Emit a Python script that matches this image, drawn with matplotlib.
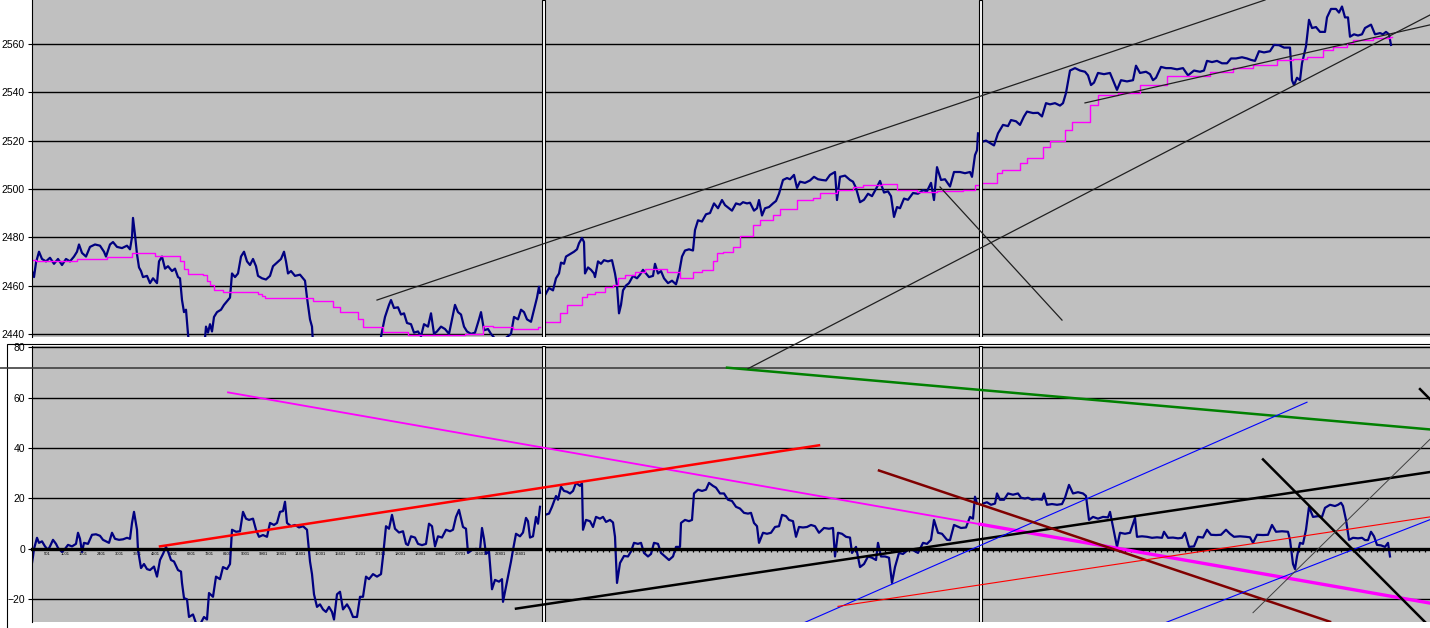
import numpy as np
import matplotlib.pyplot as plt
from matplotlib.patches import Rectangle

plt.rcParams['font.family'] = ['Liberation Sans', 'DejaVu Sans']

# ---- price panel (top), x = bar position, value = index level ----
price_s1 = [(32, 2466), (34, 2463.5), (36, 2469.5), (39, 2474), (42, 2471), (46, 2470), (50, 2471.5),
            (54, 2469), (58, 2471), (62, 2468.5), (66, 2471), (70, 2470), (74, 2472), (77, 2474),
            (79, 2477), (82, 2473.5), (86, 2472), (90, 2476), (95, 2477), (100, 2476.5), (104, 2474),
            (106, 2472), (110, 2477), (113, 2478), (117, 2476), (122, 2475.5), (127, 2476.5), (130, 2475),
            (132, 2480), (133, 2488), (135, 2481), (137, 2473), (139, 2467.5), (141, 2466), (143, 2463.5),
            (147, 2464), (150, 2461), (153, 2463), (157, 2461), (159, 2470), (162, 2472), (165, 2467),
            (168, 2468), (172, 2466), (175, 2467), (178, 2463.5), (180, 2463), (182, 2454), (184, 2449),
            (186, 2450), (188, 2440), (190, 2432), (195, 2430), (200, 2430), (204, 2433), (206, 2443),
            (208, 2440.5), (210, 2444), (212, 2441), (214, 2447), (217, 2449), (221, 2450), (224, 2452),
            (228, 2454), (230, 2455), (232, 2465), (235, 2463.5), (238, 2465), (241, 2472), (244, 2474),
            (247, 2470), (250, 2468.5), (253, 2471), (256, 2468), (258, 2464), (262, 2463), (266, 2462.5),
            (270, 2464), (273, 2468), (277, 2469.5), (281, 2471), (284, 2474), (286, 2470), (288, 2465),
            (291, 2466), (295, 2464), (300, 2464.5), (305, 2462), (307, 2455), (310, 2446), (312, 2443),
            (313, 2436), (320, 2430), (340, 2428), (360, 2430), (378, 2432), (382, 2441), (385, 2447),
            (389, 2452), (391, 2454), (394, 2450.7), (398, 2451), (401, 2448), (404, 2448.5), (407, 2444.5),
            (411, 2444), (414, 2440.5), (418, 2441), (421, 2439), (424, 2444), (428, 2443), (431, 2448.5),
            (434, 2440), (437, 2441), (441, 2443), (445, 2442), (449, 2440), (452, 2446), (455, 2452),
            (458, 2449), (461, 2448), (464, 2443), (467, 2441), (471, 2440), (475, 2440.5), (479, 2446),
            (481, 2449), (484, 2441.5), (488, 2442), (491, 2440), (495, 2438), (505, 2438), (511, 2440),
            (514, 2447), (518, 2446), (521, 2450), (524, 2449), (527, 2446), (531, 2445), (534, 2450),
            (537, 2455), (539, 2459.5), (540, 2457)]
price_s2 = [(545, 2456), (549, 2459), (553, 2458), (556, 2463), (559, 2465), (561, 2469.5), (564, 2469),
            (566, 2472), (570, 2473), (574, 2474), (577, 2475), (579, 2477.5), (582, 2479.7), (584, 2478),
            (585, 2465), (588, 2467.5), (591, 2466.5), (594, 2465), (595, 2463.5), (598, 2470), (601, 2469),
            (604, 2470.5), (608, 2470), (612, 2470.5), (615, 2465), (617, 2460), (619, 2448.5), (621, 2452),
            (623, 2458), (626, 2460), (629, 2461), (633, 2464), (637, 2463), (640, 2464.5), (643, 2466.5),
            (646, 2465), (649, 2463.5), (653, 2464), (655, 2469), (658, 2465), (661, 2466), (664, 2463),
            (668, 2461), (672, 2462), (676, 2460.5), (679, 2465), (682, 2472), (685, 2474.5), (689, 2475),
            (693, 2474.5), (695, 2483), (698, 2487), (702, 2486.5), (706, 2489.5), (710, 2490), (714, 2494),
            (718, 2492), (722, 2495.4), (725, 2493.3), (729, 2492), (732, 2491), (736, 2494), (740, 2493.5),
            (743, 2494.5), (747, 2494), (750, 2494.3), (754, 2491), (757, 2492), (759, 2495.4), (762, 2489),
            (765, 2492), (769, 2492.5), (773, 2494), (776, 2495), (779, 2498), (783, 2503.7), (787, 2504.5),
            (790, 2504), (794, 2505.8), (797, 2500.4), (800, 2503), (805, 2502.5), (810, 2503.5), (814, 2505),
            (818, 2504), (822, 2503.7), (826, 2503.5), (830, 2505.8), (835, 2507), (837, 2495.4), (840, 2505),
            (845, 2505.5), (850, 2503.7), (853, 2503), (856, 2500.4), (860, 2494.5), (864, 2495.5), (868, 2498),
            (872, 2497), (876, 2500), (880, 2503.3), (884, 2498.5), (888, 2499), (891, 2497), (894, 2488.4),
            (897, 2492.5), (900, 2492), (904, 2496), (908, 2495.5), (913, 2498.3), (918, 2498), (923, 2499.5),
            (927, 2499), (931, 2502.5), (934, 2495.4), (937, 2509), (941, 2503.7), (945, 2504), (950, 2501),
            (954, 2507), (960, 2507), (965, 2506.5), (970, 2507), (972, 2505), (975, 2514), (977, 2516),
            (978, 2523)]
price_s3 = [(982, 2519.5), (986, 2520), (990, 2519), (994, 2518), (998, 2523), (1003, 2526.5), (1008, 2526),
            (1011, 2528.5), (1016, 2528), (1020, 2526.5), (1024, 2530), (1027, 2532), (1033, 2531.4),
            (1038, 2531.5), (1042, 2530), (1046, 2535.5), (1050, 2535), (1055, 2535.5), (1060, 2534.5),
            (1063, 2535.5), (1066, 2539.7), (1070, 2549), (1075, 2550), (1080, 2549), (1085, 2548.5),
            (1088, 2547), (1091, 2543), (1094, 2544), (1098, 2548), (1104, 2547.5), (1110, 2548), (1113, 2545),
            (1117, 2541), (1121, 2545), (1127, 2544.5), (1133, 2545), (1136, 2551), (1140, 2548),
            (1146, 2548.5), (1150, 2547.5), (1153, 2545), (1156, 2546), (1161, 2550.5), (1166, 2550),
            (1171, 2550), (1177, 2549.5), (1183, 2550), (1188, 2547), (1194, 2549), (1200, 2548.5),
            (1204, 2549), (1207, 2553), (1212, 2552.5), (1217, 2553), (1222, 2552), (1227, 2552), (1231, 2554),
            (1236, 2554), (1242, 2554.5), (1247, 2554), (1251, 2553.4), (1255, 2553), (1259, 2557),
            (1264, 2556.5), (1270, 2557), (1274, 2559.6), (1279, 2559.5), (1284, 2558.5), (1290, 2558.5),
            (1292, 2545), (1294, 2543), (1297, 2546), (1300, 2545), (1302, 2552), (1306, 2559), (1309, 2570),
            (1312, 2566.6), (1316, 2567), (1320, 2565), (1325, 2565), (1327, 2571), (1331, 2574.5),
            (1336, 2574.5), (1339, 2573), (1342, 2575.5), (1345, 2571), (1348, 2571), (1350, 2563),
            (1354, 2564), (1358, 2563.5), (1362, 2564), (1365, 2566.6), (1371, 2568), (1375, 2564),
            (1380, 2564.5), (1383, 2564), (1386, 2565), (1389, 2564), (1391, 2559.6)]

# running average (stepped), (start bar, level); last entry closes the section
avg_s1 = [(32, 2470.5), (36, 2470), (77, 2471), (107, 2471.8), (132, 2473.4), (155, 2472.2), (180, 2470),
          (184, 2467), (188, 2464.8), (203, 2464.5), (207, 2462), (210, 2460.2), (214, 2458), (223, 2457.3),
          (258, 2456.5), (262, 2455.5), (265, 2455), (313, 2453.6), (333, 2451), (340, 2449), (358, 2446),
          (363, 2443), (383, 2440.8), (408, 2439.5), (465, 2440), (483, 2443.2), (493, 2443), (513, 2442),
          (538, 2443), (540, 2443)]
avg_s2 = [(545, 2445), (560, 2448.5), (567, 2452), (582, 2455.3), (587, 2456.5), (595, 2457.3), (605, 2459.4),
          (613, 2460.2), (618, 2463), (625, 2464.3), (635, 2465.6), (645, 2466.8), (667, 2465.6), (680, 2463),
          (693, 2465.6), (702, 2466.4), (713, 2470), (717, 2473.4), (723, 2474), (733, 2476), (740, 2480.5),
          (753, 2485), (760, 2487), (773, 2489), (780, 2491.7), (797, 2495.4), (813, 2496.2), (820, 2498.3),
          (837, 2499.5), (853, 2500.8), (863, 2501.6), (882, 2502), (897, 2499.5), (917, 2498.7), (937, 2499),
          (963, 2499.5), (975, 2501.6), (978, 2501.6)]
avg_s3 = [(982, 2502.5), (997, 2506.5), (1002, 2508), (1020, 2510.6), (1027, 2512.8), (1043, 2517.4),
          (1050, 2520), (1065, 2524.4), (1072, 2527.7), (1090, 2534.7), (1098, 2539), (1118, 2539.8),
          (1140, 2543), (1167, 2546.7), (1210, 2548.5), (1233, 2550), (1253, 2551.3), (1277, 2553.4),
          (1293, 2553.8), (1307, 2554.6), (1323, 2557.5), (1333, 2558.8), (1347, 2560.4), (1353, 2561.6),
          (1373, 2562.5), (1390, 2563), (1392, 2563)]

# ---- oscillator panel (bottom) ----
osc_s1 = [(32, -5.6), (33, -3), (34, 0), (37, 4.4), (39, 2.4), (42, 3), (45, 1), (48, -0.4), (50, 1), (53, 3.6),
          (56, 2), (58, 0.4), (62, -1.2), (65, 0), (68, 1.6), (72, 1), (76, 2), (78, 6.4), (80, 4), (82, -1.2),
          (84, 2.4), (88, 2), (92, 5.6), (96, 5.8), (100, 5.2), (103, 3.6), (106, 3), (109, 2.4), (112, 6.4),
          (115, 4), (119, 3.6), (123, 3.8), (127, 4.4), (130, 4), (132, 10.3), (134, 14.7), (136, 10),
          (137, 7.6), (138, -0.4), (141, -7.6), (144, -6), (147, -8), (150, -8.4), (154, -7), (157, -11),
          (160, -4.4), (163, -2), (166, 0.8), (168, -1), (171, -4.4), (174, -5), (178, -8.4), (181, -9),
          (182, -13.5), (184, -19.5), (187, -20), (189, -27), (193, -26), (196, -29.5), (200, -30),
          (204, -27), (207, -28), (209, -17.5), (213, -19), (216, -11), (220, -12), (223, -7.2), (227, -8),
          (230, -6), (232, 7.6), (236, 6.8), (240, 7), (243, 14.7), (246, 12), (249, 11.5), (253, 12),
          (256, 7.6), (259, 4.8), (263, 5.5), (267, 4.8), (270, 10.3), (274, 9.5), (277, 10.3), (280, 14.7),
          (283, 15), (285, 18.7), (287, 10.3), (291, 9), (295, 9.5), (299, 8.5), (303, 9), (307, 7.6),
          (310, -5), (312, -10), (314, -18), (317, -23), (320, -22), (323, -24), (326, -25), (329, -23),
          (332, -25), (334, -28), (337, -18), (340, -17), (343, -24), (347, -22), (350, -24), (353, -27),
          (357, -27), (360, -19), (363, -19), (366, -11), (369, -12), (373, -10), (377, -11), (381, -10),
          (383, -3), (386, 9), (389, 8), (392, 13.5), (395, 8), (399, 6.5), (403, 7), (406, 2), (408, 1.5),
          (411, 5), (415, 4.5), (418, 2), (422, 1.5), (426, 2), (429, 10), (432, 9), (435, 1), (438, 5),
          (442, 4.5), (446, 7.6), (450, 7), (453, 7.6), (456, 12.7), (459, 15.5), (463, 8.7), (466, 8),
          (468, -1.6), (472, -0.4), (476, 0), (480, -0.4), (482, 8.3), (484, 4), (486, -2), (489, -1),
          (492, -16), (495, -12.3), (499, -13), (502, -12), (503, -21), (506, -15), (508, -11), (511, -5),
          (513, -0.4), (516, 6), (520, 5), (523, 6.5), (526, 12.3), (528, 11), (530, 4.5), (533, 5),
          (536, 12.7), (538, 10), (540, 16.7)]
osc_s2 = [(545, 13.5), (549, 14), (552, 16.7), (556, 21), (558, 19.5), (561, 24.7), (564, 23), (567, 22.7),
          (570, 22), (573, 23), (576, 26.2), (580, 25), (582, 26), (583, 7.6), (586, 11.5), (590, 11),
          (593, 8.7), (596, 12.7), (600, 12), (603, 12.7), (606, 10.7), (610, 11.5), (613, 10.5), (615, 4.8),
          (617, -13.5), (620, -5.6), (624, -2.8), (628, -3), (631, -1), (634, 2.4), (638, 2), (641, 2.4),
          (644, -1.6), (648, -3), (651, -2), (654, 2.4), (658, 2), (661, -1.6), (665, -3), (669, -4.4),
          (673, -3), (676, 0.8), (680, 0.8), (681, 10.3), (685, 11.5), (689, 11), (692, 11.5), (694, 22),
          (698, 23.5), (702, 23), (706, 23.5), (709, 26.2), (713, 25), (716, 24.3), (720, 22), (724, 22),
          (728, 19.5), (732, 19), (736, 16.7), (740, 16), (744, 14.3), (748, 14), (751, 14.3), (754, 10.3),
          (757, 9), (759, 2.4), (763, 6.4), (767, 6), (771, 6.4), (775, 8.7), (779, 9), (782, 13.5), (786, 13),
          (789, 11.5), (793, 11), (796, 4.8), (799, 8.7), (803, 8.5), (807, 8.7), (811, 9.5), (815, 9),
          (819, 6.4), (824, 8.3), (829, 8), (833, 8.3), (835, -3), (838, 6.4), (842, 6), (846, 4.8), (850, 4.5),
          (852, -1.6), (856, 0.8), (860, -7.2), (864, -6), (868, -3), (872, -3.5), (876, -4.4), (878, 2.4),
          (881, -3), (885, -3), (889, -3.5), (892, -13.5), (895, -7.2), (899, -1.6), (903, -2), (908, -0.4),
          (913, -0.5), (918, -1.6), (923, 2.4), (927, 2), (931, 3.6), (934, 11.5), (938, 6.4), (942, 6),
          (947, 3.6), (950, 3.5), (954, 9.5), (957, 9), (961, 8.3), (966, 8.5), (970, 12.7), (973, 12),
          (975, 20.7), (977, 18)]
osc_s3 = [(983, 18), (987, 18.5), (991, 17.5), (995, 18), (997, 22), (1000, 19.5), (1004, 19.5), (1008, 22),
          (1013, 21.5), (1018, 22), (1021, 20.3), (1025, 20), (1028, 20.3), (1032, 19.5), (1037, 19.8),
          (1042, 19.5), (1044, 22), (1047, 17.5), (1052, 17.8), (1057, 17.5), (1062, 17.8), (1065, 20.3),
          (1069, 25.4), (1073, 22), (1078, 22.5), (1083, 22), (1086, 21), (1089, 11.5), (1093, 12.7),
          (1098, 12), (1103, 12.7), (1108, 12.5), (1110, 14.7), (1113, 8.7), (1117, 0.8), (1120, 6.4),
          (1125, 6), (1130, 6.4), (1135, 12.3), (1137, 4.8), (1142, 5), (1147, 4.8), (1152, 4.4), (1157, 4.6),
          (1162, 4.4), (1164, 6.8), (1168, 4.4), (1173, 4.5), (1178, 4.2), (1182, 4.4), (1185, 6.4),
          (1189, 0.8), (1194, 1), (1198, 4.8), (1203, 4.5), (1207, 7.6), (1211, 5.6), (1216, 5.5), (1221, 5.6),
          (1226, 7.6), (1230, 6), (1234, 4.8), (1240, 5), (1246, 4.8), (1250, 4.6), (1253, 2.4), (1257, 5.6),
          (1263, 5.5), (1268, 5.6), (1272, 9.5), (1276, 6.8), (1282, 7), (1288, 6.8), (1290, 3.6), (1293, -6),
          (1295, -8), (1297, -3), (1300, 2.4), (1303, 2), (1306, 7.6), (1309, 16.7), (1313, 12.7), (1318, 13),
          (1322, 12.7), (1325, 16.3), (1330, 17.5), (1335, 17), (1338, 17.5), (1341, 18.3), (1343, 17),
          (1346, 11.5), (1349, 3.6), (1353, 4.4), (1358, 4.2), (1362, 4.4), (1365, 3.5), (1368, 3.5),
          (1371, 6.8), (1374, 5), (1377, 1.6), (1381, 1.4), (1385, 0.8), (1388, 2.4), (1390, -3)]

# hand-drawn trend lines: (x0, v0, x1, v1)
top_lines = [(377, 2454.0, 1265, 2578.2), (940, 2500.8, 1062, 2445.7), (1085, 2535.6, 1430, 2567.9)]
cross_line = (748, 2425.6, 1430, 2572.0)   # drawn from the lower pane up into the price pane
bot_lines = [(0, 71.9, 1430, 71.9),
             (228, 62.1, 980, 9.8), (980, 9.8, 1430, -21.5),
             (160, 1.0, 819, 41.1),
             (727, 71.9, 1430, 47.4),
             (516, -23.7, 1430, 30.5),
             (804, -29.3, 1307, 58.2),
             (879, 31.1, 1330, -28.9),
             (838, -22.8, 1430, 12.7),
             (1160, -30.1, 1430, 11.6),
             (1263, 35.5, 1425, -29.0),
             (1253, -25.3, 1430, 43.5),
             (1420, 63.4, 1430, 59.4)]
bot_styles = [('#404040', 1.2), ('#ff00ff', 1.3), ('#ff00ff', 2.4), ('#ff0000', 1.8), ('#008000', 1.8),
              ('#000000', 1.8), ('#0000ff', 0.8), ('#800000', 1.8), ('#ff0000', 0.8), ('#0000ff', 0.8),
              ('#000000', 1.8), ('#404040', 0.7), ('#000000', 1.8)]

top_ticks = [2440, 2460, 2480, 2500, 2520, 2540, 2560]
bot_ticks = [-20, 0, 20, 40, 60, 80]
bar_tick_x = [47, 65, 83, 101, 119, 137, 155, 173, 191, 209, 227, 245, 263, 281, 300, 320, 340, 360,
              380, 400, 420, 440, 460, 480, 500, 520]
bar_tick_labels = ['501', '1001', '1501', '2401', '3001', '3601', '4201', '5401', '6301', '7201', '8101',
                   '9001', '9901', '13801', '14401', '15001', '15601', '16201', '17101', '18001', '18901',
                   '19801', '20701', '21601', '22801', '23401']
separators = [(541.5, 544.5), (978.5, 981.5)]


def joined(*sections):
    parts = []
    for s in sections:
        parts.append(np.array(s, float))
        parts.append(np.array([[np.nan, np.nan]]))
    arr = np.vstack(parts[:-1])
    return arr[:, 0], arr[:, 1]


W, H = 1430, 628
fig = plt.figure(figsize=(W / 100, H / 100), dpi=100, facecolor='white')
fig.patches.append(Rectangle((7 / W, -0.01), 1, 290 / H, transform=fig.transFigure,
                             fc='white', ec='black', lw=0.8, zorder=-1))

ax_top = fig.add_axes([32 / W, 1 - 337 / H, 1 - 32 / W, 337 / H], facecolor='#c0c0c0')
ax_bot = fig.add_axes([32 / W, 1 - 622 / H, 1 - 32 / W, 276 / H], facecolor='#c0c0c0')
ax_top.set_zorder(3)

for ax in (ax_top, ax_bot):
    ax.set_xlim(32, 1430)
    for side in ('top', 'right', 'bottom'):
        ax.spines[side].set_visible(False)
    ax.spines['left'].set_color('black')
    ax.grid(axis='y', color='black', lw=1.0)
    ax.set_axisbelow(True)
    ax.tick_params(axis='y', length=3, width=0.8, pad=2, labelsize=7.5)
    for a, b in separators:
        ax.axvspan(a, b, fc='white', ec='black', lw=0.8, zorder=3)

# price pane
ax_top.set_ylim(2438.7, 2578.2)
ax_top.set_yticks(top_ticks)
ax_top.set_xticks([])
x, v = joined(price_s1, price_s2, price_s3)
ax_top.plot(x, v, color='#000080', lw=1.6, zorder=2)
for sec in (avg_s1, avg_s2, avg_s3):
    a = np.array(sec, float)
    ax_top.step(a[:, 0], a[:, 1], where='post', color='#ff00ff', lw=1.0, zorder=2.5)
for x0, v0, x1, v1 in top_lines:
    ax_top.plot([x0, x1], [v0, v1], color='#202020', lw=0.9, zorder=4)
x0, v0, x1, v1 = cross_line
ax_top.plot([x0, x1], [v0, v1], color='#202020', lw=0.9, zorder=4, clip_on=False)

# oscillator pane
ax_bot.set_ylim(-29.0, 80.5)
ax_bot.set_yticks(bot_ticks)
ax_bot.spines['bottom'].set_visible(True)
ax_bot.spines['bottom'].set_position(('data', 0))
ax_bot.spines['bottom'].set_linewidth(2.4)
ax_bot.spines['bottom'].set_zorder(2.2)
ax_bot.set_xticks(bar_tick_x)
ax_bot.set_xticklabels(bar_tick_labels)
ax_bot.set_xticks(np.arange(549, 1430, 6), minor=True)
ax_bot.tick_params(axis='x', which='major', length=0, labelsize=3, pad=2)
ax_bot.tick_params(axis='x', which='minor', length=2.5, width=0.9, direction='out')
x, v = joined(osc_s1, osc_s2, osc_s3)
ax_bot.plot(x, v, color='#000080', lw=1.6, zorder=2)
for i, ((x0, v0, x1, v1), (c, lw)) in enumerate(zip(bot_lines, bot_styles)):
    ax_bot.plot([x0, x1], [v0, v1], color=c, lw=lw, zorder=4, clip_on=(i != 0))

fig.savefig('out.png', dpi=100, facecolor='white')
